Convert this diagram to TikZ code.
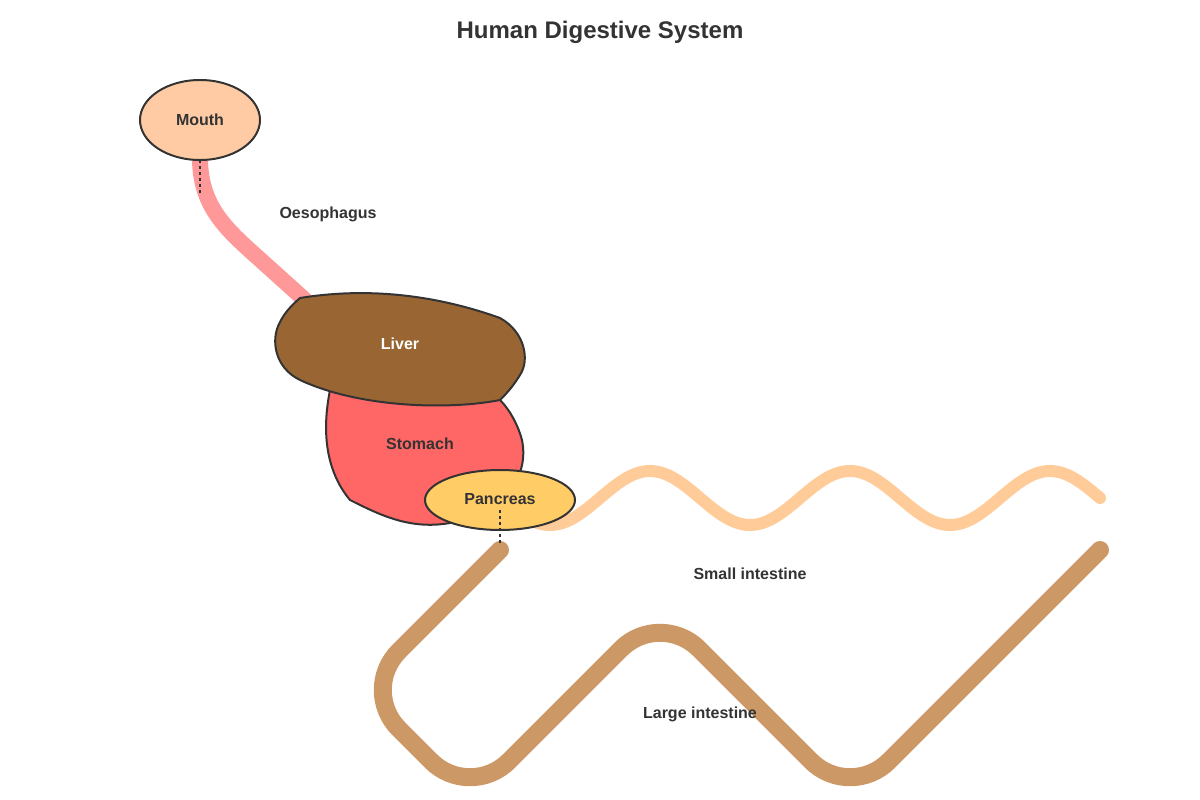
\documentclass[tikz,border=0pt]{standalone}
\usepackage{fontspec}
\setmainfont{Liberation Sans}
\usetikzlibrary{shapes.geometric}
\begin{document}
\begin{tikzpicture}[x=1pt,y=-1pt,
  lbl/.style={font=\fontsize{16}{19}\selectfont\bfseries,text=txt},
  organ/.style={draw=txt,line width=2pt}]
\definecolor{txt}{HTML}{333333}
\definecolor{mouthc}{HTML}{FFCBA4}
\definecolor{oeso}{HTML}{FF9999}
\definecolor{stom}{HTML}{FF6666}
\definecolor{liver}{HTML}{996633}
\definecolor{panc}{HTML}{FFCC66}
\definecolor{small}{HTML}{FFCC99}
\definecolor{large}{HTML}{CC9966}
\useasboundingbox[fill=white] (0,0) rectangle (1200,800);
\node[lbl,font=\fontsize{24}{28}\selectfont\bfseries] (title) at (600,32) {Human Digestive System};
% oesophagus
\draw[oeso,line width=16pt,line cap=round] (200,158) .. controls (200,205) and (225,228) .. (255,255) -- (305,300);
% small intestine
\draw[small,line width=12pt,line cap=round,domain=530:1100,samples=120,smooth] plot (\x,{498+27*cos((\x-550)*1.8)});
% large intestine
\draw[large,line width=18pt,line cap=round,rounded corners=55pt] (500,550) -- (360,690) -- (470,800) -- (660,610) -- (850,800) -- (1100,550);
% stomach
\draw[organ,fill=stom] (330,390) .. controls (322,430) and (325,470) .. (350,500) .. controls (380,515) and (410,530) .. (450,523) .. controls (500,515) and (530,480) .. (522,440) .. controls (518,425) and (510,410) .. (500,400) -- cycle;
% liver
\draw[organ,fill=liver] (300,298) .. controls (380,285) and (450,300) .. (500,318) .. controls (525,332) and (530,360) .. (520,375) .. controls (512,388) and (505,395) .. (500,400) .. controls (450,410) and (360,408) .. (300,380) .. controls (275,368) and (270,340) .. (280,322) .. controls (285,312) and (292,305) .. (300,298) -- cycle;
% mouth and pancreas
\node[organ,ellipse,fill=mouthc,minimum width=120pt,minimum height=80pt,inner sep=0pt] (mouth) at (200,120) {};
\node[organ,ellipse,fill=panc,minimum width=150pt,minimum height=60pt,inner sep=0pt] (pancreas) at (500,500) {};
\coordinate (m1) at (200,160); \coordinate (m2) at (200,195);
\coordinate (p1) at (500,510); \coordinate (p2) at (500,545);
\draw[txt,dashed,line width=1.2pt] (m1) -- (m2);
\draw[txt,dashed,line width=1.2pt] (p1) -- (p2);
\node[lbl] (lmouth) at (200,120) {Mouth};
\node[lbl] (loeso) at (328,214) {Oesophagus};
\node[lbl,text=white] (lliver) at (400,344) {Liver};
\node[lbl] (lstom) at (420,444) {Stomach};
\node[lbl] (lpanc) at (500,499) {Pancreas};
\node[lbl] (lsmall) at (750,574) {Small intestine};
\node[lbl] (llarge) at (700,714) {Large intestine};
\end{tikzpicture}
\end{document}
